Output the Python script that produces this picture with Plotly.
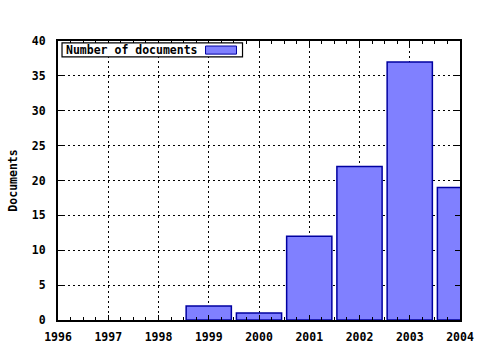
import plotly.graph_objects as go

years = [1999, 2000, 2001, 2002, 2003, 2004]
docs = [2, 1, 12, 22, 37, 19]
series_name = "Number of documents"
x_ticks = [1996, 1997, 1998, 1999, 2000, 2001, 2002, 2003, 2004]
y_ticks = [0, 5, 10, 15, 20, 25, 30, 35, 40]

BAR_FILL = "#8080ff"
BAR_LINE = "#0000a0"
font = dict(family="DejaVu Sans Mono", size=11.5, color="black", weight="bold")

fig = go.Figure()
fig.add_trace(go.Bar(
    x=years, y=docs, name=series_name, width=0.9,
    marker=dict(color=BAR_FILL, line=dict(color=BAR_LINE, width=1.5)),
    showlegend=False,
))

# legend box drawn manually (text left, swatch right as in the reference)
fig.add_shape(type="rect", xref="x domain", yref="y domain",
              x0=0.01, x1=0.459, y0=0.943, y1=0.993,
              line=dict(color="black", width=1.2), fillcolor="white", layer="above")
fig.add_shape(type="rect", xref="x domain", yref="y domain",
              x0=0.367, x1=0.444, y0=0.953, y1=0.982,
              line=dict(color=BAR_LINE, width=1), fillcolor=BAR_FILL, layer="above")
fig.add_annotation(xref="x domain", yref="y domain", x=0.015, y=0.968,
                   xanchor="left", yanchor="middle", text=series_name,
                   showarrow=False, font=font)

fig.update_layout(
    width=480, height=350,
    margin=dict(l=58, r=20, t=41, b=30, autoexpand=False),
    plot_bgcolor="white", paper_bgcolor="white",
    font=font,
    showlegend=False,
    bargap=0.1,
)
fig.update_xaxes(
    range=[1996, 2004], tickvals=x_ticks, ticktext=[str(v) for v in x_ticks],
    showline=True, linecolor="black", linewidth=2, mirror="ticks",
    ticks="inside", ticklen=5, tickcolor="black",
    showgrid=True, gridcolor="black", griddash="2px,3px", gridwidth=1,
    minor=dict(ticks="inside", ticklen=3, dtick=0.25, tickcolor="black", showgrid=False),
    zeroline=False, tickfont=font, ticklabelstandoff=5, automargin=False,
)
fig.update_yaxes(
    range=[0, 40], tickvals=y_ticks,
    showline=True, linecolor="black", linewidth=2, mirror="ticks",
    ticks="inside", ticklen=5, tickcolor="black",
    showgrid=True, gridcolor="black", griddash="2px,3px", gridwidth=1,
    zeroline=False, tickfont=font, ticklabelstandoff=8, automargin=False,
    title=dict(text="Documents", font=font, standoff=12),
)

fig.write_html("out.html")
